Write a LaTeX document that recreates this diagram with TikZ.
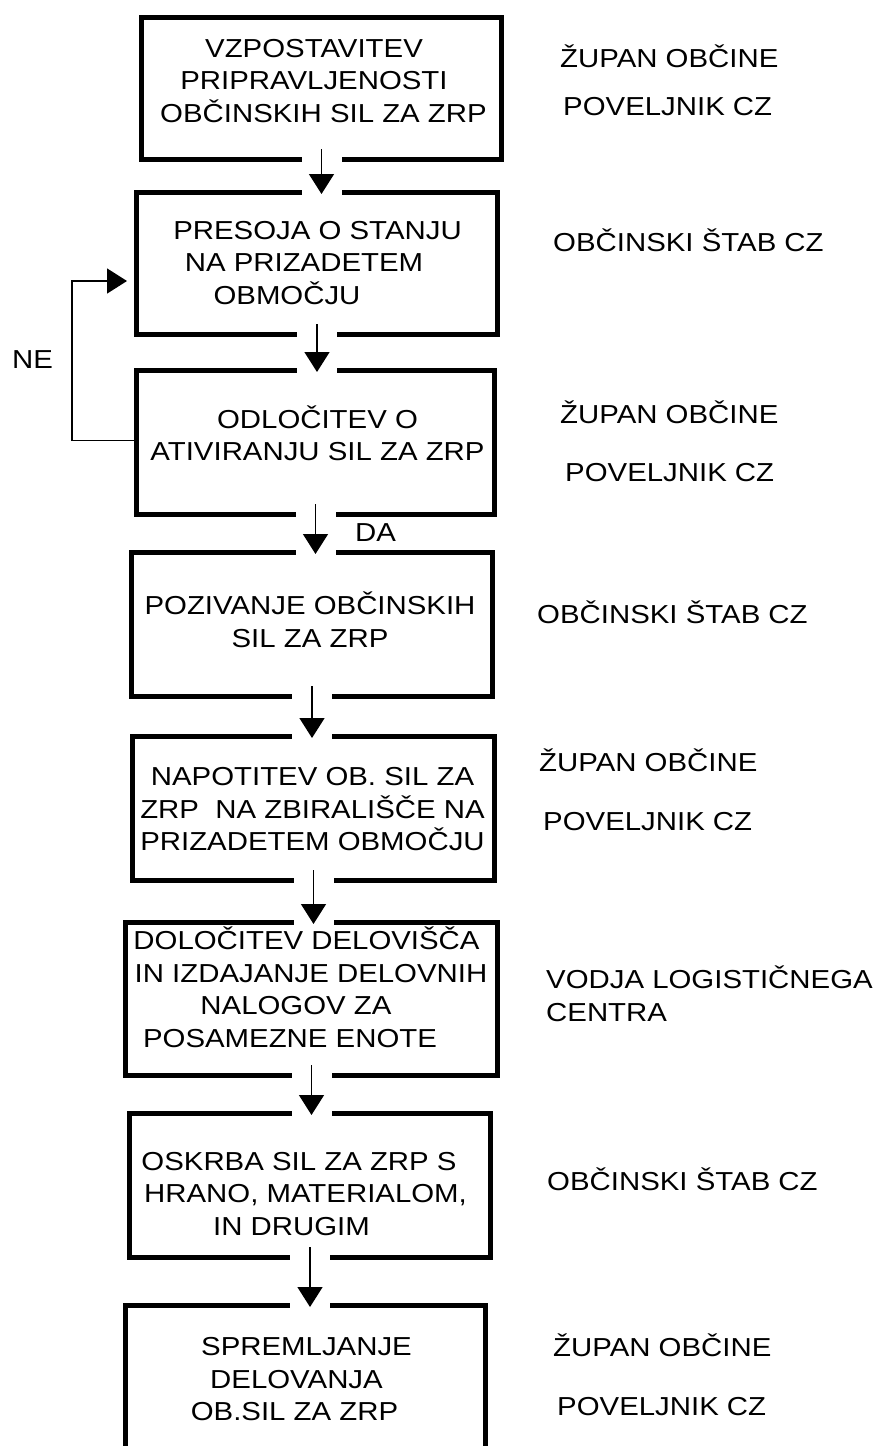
\documentclass[tikz,border=0pt]{standalone}
\usepackage{fontspec}
\setmainfont{Liberation Sans}[FakeStretch=1.13]
\usetikzlibrary{arrows.meta,calc}

\newcommand{\nudge}[1]{\rule{#1}{0pt}}

\tikzset{
    stagebox/.style={draw, line width=5pt, inner sep=0pt},
    stagetext/.style={align=center, inner sep=0pt, anchor=south},
    role/.style={anchor=base west, inner sep=0pt},
    flow/.style={line width=1.5pt, -{Triangle[length=20pt,width=25pt]}},
    gapcut/.style={white, line width=40pt},
}

\begin{document}
\begin{tikzpicture}[x=1pt,y=-1pt,font=\fontsize{26pt}{32.5pt}\selectfont]
\useasboundingbox (0,0) rectangle (877,1446);
\clip (0,0) rectangle (877,1446);

% ----------------------------------------------------------
% Stages
% ----------------------------------------------------------
\node[stagebox, minimum width=360pt, minimum height=142pt] (b1) at (321.5,88.5) {};
\node[stagebox, minimum width=361pt, minimum height=142pt] (b2) at (317,263.5) {};
\node[stagebox, minimum width=358pt, minimum height=144pt] (b3) at (315.5,442.5) {};
\node[stagebox, minimum width=361pt, minimum height=144pt] (b4) at (312,624.5) {};
\node[stagebox, minimum width=362pt, minimum height=144pt] (b5) at (313.5,808.5) {};
\node[stagebox, minimum width=372pt, minimum height=153pt] (b6) at (311.5,999) {};
\node[stagebox, minimum width=361pt, minimum height=144pt] (b7) at (310,1185.5) {};
\node[stagebox, minimum width=360pt, minimum height=162pt] (b8) at (305.5,1386.5) {};

% ----------------------------------------------------------
% Arrows between stages
% ----------------------------------------------------------
\foreach \a/\b in {b1/b2,b2/b3,b3/b4,b4/b5,b5/b6,b6/b7,b7/b8} {
    \draw[gapcut] ($(\a.south)+(0,-13)$) -- ($(\a.south |- \b.north)+(0,6)$);
    \draw[flow] ($(\a.south)+(0,-13)$) -- ($(\a.south |- \b.north)+(0,4)$);
}

% back to assessment
\draw[flow] ($(b3.west)+(0,-2)$) -- ++(-62,0) |- ($(b2.west)+(-7,17.5)$);

% ----------------------------------------------------------
% Stage texts
% ----------------------------------------------------------
\node[stagetext] (t1) at (323.5,122.5) {VZPOSTAVITEV\nudge{19pt}\\PRIPRAVLJENOSTI\nudge{19pt}\\OBČINSKIH SIL ZA ZRP};
\node[stagetext] (t2) at (317.5,304.5) {PRESOJA O STANJU\\NA PRIZADETEM\nudge{27pt}\\OBMOČJU\nudge{61pt}};
\node[stagetext] (t3) at (317.5,461) {ODLOČITEV O\\ATIVIRANJU SIL ZA ZRP};
\node[stagetext] (t4) at (310,647.5) {POZIVANJE OBČINSKIH\\SIL ZA ZRP};
\node[stagetext] (t5) at (312.5,851) {NAPOTITEV OB. SIL ZA\\ZRP\ \ NA ZBIRALIŠČE NA\\PRIZADETEM OBMOČJU};
\node[stagetext] (t6) at (311,1047.5) {DOLOČITEV DELOVIŠČA\nudge{9pt}\\IN IZDAJANJE DELOVNIH\\NALOGOV ZA\nudge{30pt}\\POSAMEZNE ENOTE\nudge{42pt}};
\node[stagetext] (t7) at (305.5,1235.5) {OSKRBA SIL ZA ZRP S\nudge{13pt}\\HRANO, MATERIALOM,\\IN DRUGIM\nudge{28pt}};
\node[stagetext] (t8) at (306.5,1421) {SPREMLJANJE\\DELOVANJA\nudge{20pt}\\OB.SIL ZA ZRP\nudge{24pt}};

% ----------------------------------------------------------
% Responsible persons
% ----------------------------------------------------------
\node[role] (r1a) at (560,67) {ŽUPAN OBČINE};
\node[role] (r1b) at (563,115) {POVELJNIK CZ};
\node[role] (r2) at (553,251.7) {OBČINSKI ŠTAB CZ};
\node[role] (r3a) at (560,423.3) {ŽUPAN OBČINE};
\node[role] (r3b) at (565,481.7) {POVELJNIK CZ};
\node[role] (r4) at (537,623.3) {OBČINSKI ŠTAB CZ};
\node[role] (r5a) at (539,771.7) {ŽUPAN OBČINE};
\node[role] (r5b) at (543,830) {POVELJNIK CZ};
\node[role, align=left, anchor=south west] (r6) at (546,1021.7) {VODJA LOGISTIČNEGA\\CENTRA};
\node[role] (r7) at (547,1190) {OBČINSKI ŠTAB CZ};
\node[role] (r8a) at (553,1356.7) {ŽUPAN OBČINE};
\node[role] (r8b) at (557,1415) {POVELJNIK CZ};

% ----------------------------------------------------------
% Decision labels
% ----------------------------------------------------------
\node[role] (ne) at (12,368.3) {NE};
\node[role] (da) at (355,541.7) {DA};

\end{tikzpicture}
\end{document}
